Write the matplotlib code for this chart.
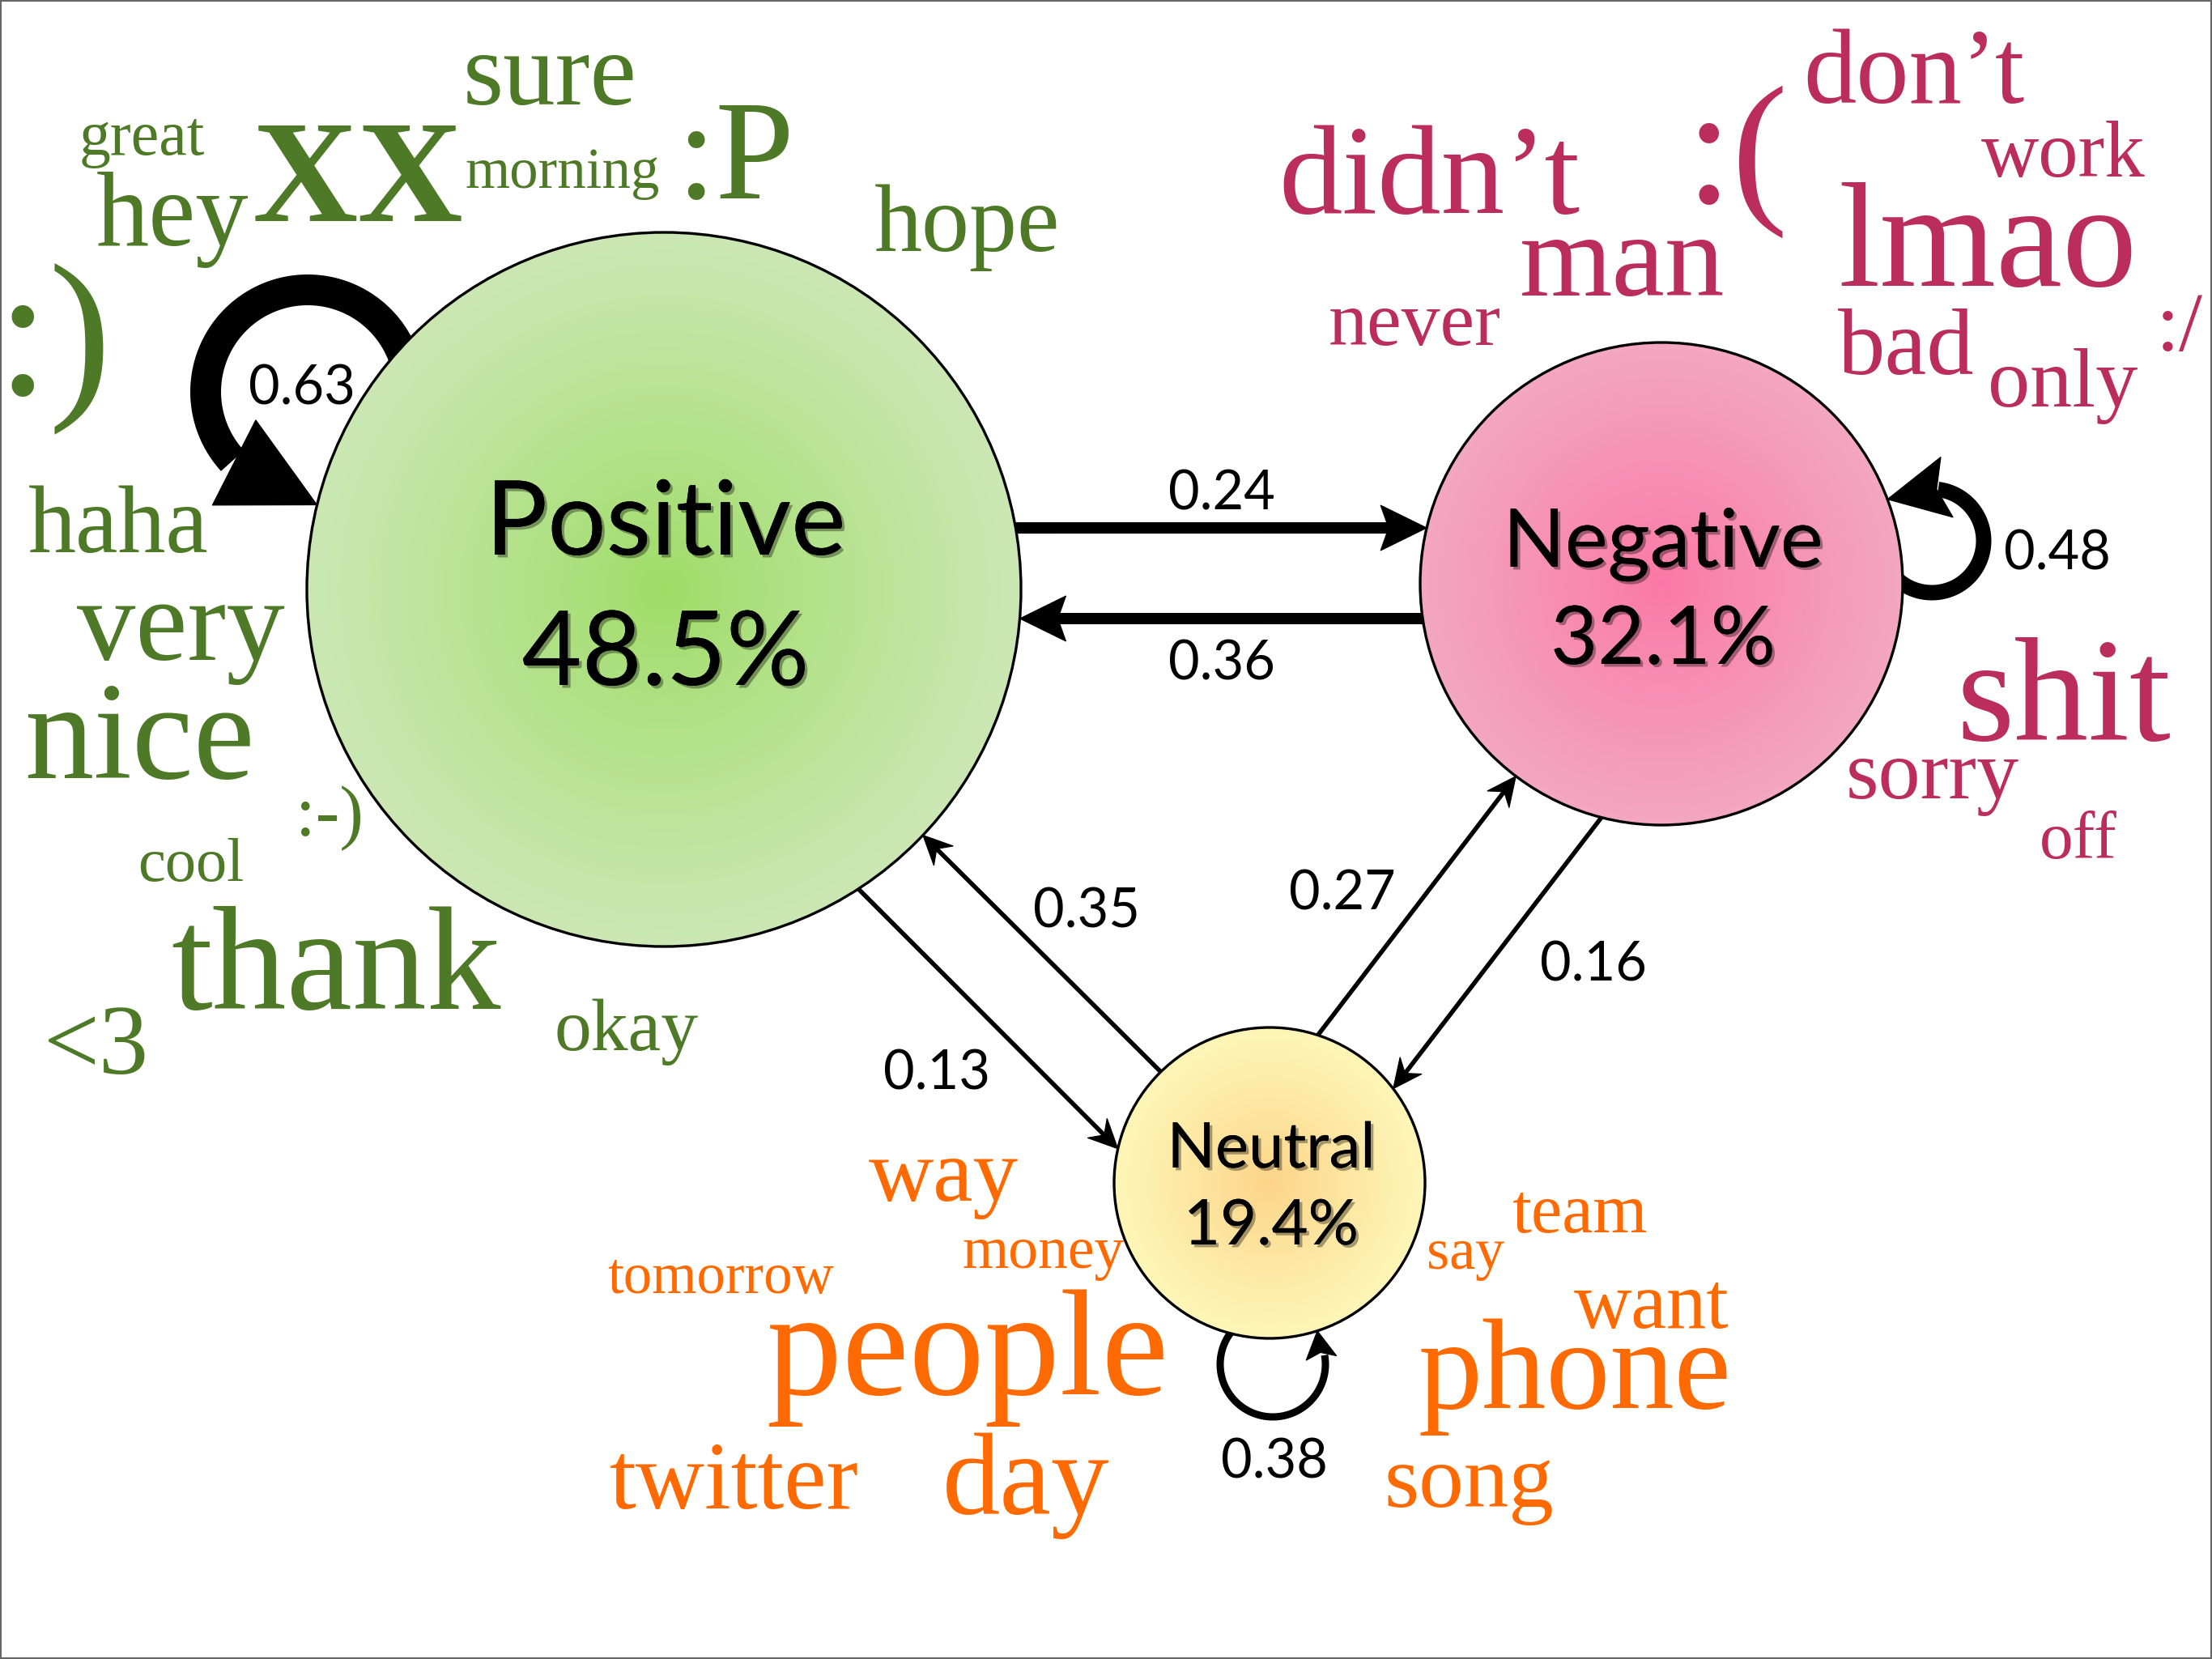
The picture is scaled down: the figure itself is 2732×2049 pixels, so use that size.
import numpy as np
import matplotlib
matplotlib.use("Agg")
import matplotlib.pyplot as plt
from matplotlib.patches import Circle, Polygon, Rectangle
from matplotlib.colors import to_rgb
import matplotlib.patheffects as pe

# ------------------------------------------------------------------ data
states = ["Positive", "Negative", "Neutral"]
shares = [48.5, 32.1, 19.4]
# transition[i][j] : probability of moving from states[i] to states[j]
transition = [[0.63, 0.24, 0.13],
              [0.36, 0.48, 0.16],
              [0.35, 0.27, 0.38]]

pos_words = ["great", "hey", "XX", "sure", "morning", ":P", "hope", ":)",
             "haha", "very", "nice", ":-)", "cool", "thank", "<3", "okay"]
pos_weights = [56, 94, 130, 93, 51, 126, 85, 168, 85, 104, 123, 64, 55, 132, 88, 66]

neg_words = ["didn\u2019t", ":(", "don\u2019t", "work", "lmao", "man", "never",
             "bad", "only", ":/", "shit", "sorry", "off"]
neg_weights = [113, 150, 94, 71, 133, 106, 69, 84, 75, 75, 132, 75, 60]

neu_words = ["way", "money", "tomorrow", "people", "twitter", "day",
             "team", "say", "want", "phone", "song"]
neu_weights = [80, 53, 51, 134, 85, 103, 62, 52, 71, 114, 80]

# ---------------------------------------------------------------- layout
W_PX, H_PX = 2732, 2049
PT = 0.72  # points per pixel at dpi 100

node_xy = [(820, 728), (2052, 721), (1568, 1461)]
node_r = [441, 298, 192]
node_c0 = ["#9fdc66", "#fb78a5", "#fcd487"]
node_c1 = ["#cbe8b4", "#f3a7c1", "#fef6b8"]
title_size = [92, 72, 56]
title_base = [685, 700, 1442]
share_base = [846, 820, 1537]

word_colors = ["#4e7a28", "#bb2d5c", "#ff6a00"]
pos_xy = [(98, 191), (119, 303), (312, 273), (572, 129), (574, 232), (835, 245),
          (1080, 310), (-4, 487), (35, 682), (95, 815), (30, 961), (365, 1032),
          (170, 1088), (211, 1246), (54, 1326), (684, 1297)]
neg_xy = [(1579, 263), (2081, 250), (2227, 127), (2447, 218), (2270, 353),
          (1877, 365), (1641, 426), (2270, 462), (2455, 502), (2663, 433),
          (2416, 914), (2280, 986), (2519, 1060)]
neu_xy = [(1073, 1483), (1188, 1566), (750, 1597), (947, 1722), (753, 1863),
          (1164, 1870), (1867, 1522), (1762, 1567), (1944, 1640), (1752, 1739),
          (1709, 1861)]

# straight edges: (from, to, angle on source, angle on target, lw px, head L, head W, notch, label xy)
straight = [
    (0, 1, -9.92, 193.39, 14, 57, 28, 10, (1509, 630)),
    (1, 0, 171.70, 4.68, 14, 57, 28, 10, (1509, 840)),
    (0, 2, 57.0, 192.7, 5.5, 36, 17, 12, (1157, 1345)),
    (2, 0, 225.6, 43.5, 5.5, 36, 17, 12, (1342, 1146)),
    (2, 1, -71.9, 127.1, 5.5, 36, 17, 12, (1658, 1123)),
    (1, 2, 104.4, -37.3, 5.5, 36, 17, 12, (1968, 1211)),
]
# self loops: (node, loop centre, loop radius, start angle, end angle, lw px,
#              tip angle on node, head direction, head L, head W, notch, label xy)
loops = [
    (0, (380, 484), 126, -20, -222.5, 38, 193.7, 27.0, 115, 59, 0, (373, 500)),
    (1, (2386, 668), 64, 135, -83, 19, -20.5, 168.5, 75, 38, 13, (2541, 703)),
    (2, (1572, 1685), 65, 240, -10, 9, 72.1, -98.4, 34, 19, 7, (1574, 1825)),
]

# ----------------------------------------------------------------- figure
fig = plt.figure(figsize=(W_PX / 100, H_PX / 100), dpi=100)
ax = fig.add_axes([0, 0, 1, 1])
ax.axis("off")

SERIF = ["Liberation Serif", "DejaVu Serif"]
SANS = ["Lato", "DejaVu Sans"]


def on_circle(i, ang):
    cx, cy = node_xy[i]
    a = np.deg2rad(ang)
    return np.array([cx + node_r[i] * np.cos(a), cy + node_r[i] * np.sin(a)])


def head(tip, d, L, W, notch):
    d = np.asarray(d, float)
    d = d / np.hypot(*d)
    n = np.array([-d[1], d[0]])
    tip = np.asarray(tip, float)
    pts = [tip, tip - L * d + W * n, tip - (L - notch) * d, tip - L * d - W * n]
    ax.add_patch(Polygon(pts, closed=True, fc="black", ec="black", lw=0.8, zorder=1.5))
    return tip - (L - notch - 1) * d


# straight arrows
for (s, t, a_s, a_t, lw, L, Wd, notch, lab) in straight:
    p0 = on_circle(s, a_s)
    p1 = on_circle(t, a_t)
    joint = head(p1, p1 - p0, L, Wd, notch)
    ax.plot([p0[0], joint[0]], [p0[1], joint[1]], color="black", lw=lw * PT,
            solid_capstyle="butt", zorder=1.4)
    ax.text(lab[0], lab[1], f"{transition[s][t]:.2f}", fontsize=48, family=SANS,
            ha="center", va="baseline", color="black", zorder=6)

# self loops
for (i, c, r, a0, a1, lw, tip_ang, hdir, L, Wd, notch, lab) in loops:
    th = np.deg2rad(np.linspace(a0, a1, 200))
    ax.plot(c[0] + r * np.cos(th), c[1] + r * np.sin(th), color="black",
            lw=lw * PT, solid_capstyle="butt", zorder=1.4)
    tip = on_circle(i, tip_ang)
    hd = np.deg2rad(hdir)
    head(tip, (np.cos(hd), np.sin(hd)), L, Wd, notch)
    ax.text(lab[0], lab[1], f"{transition[i][i]:.2f}", fontsize=48, family=SANS,
            ha="center", va="baseline", color="black", zorder=6)

# nodes with radial shading
g = np.linspace(-1, 1, 501)
X, Y = np.meshgrid(g, g)
T = np.clip(np.hypot(X, Y), 0, 1)[..., None]
shadow = [pe.withSimplePatchShadow(offset=(2.5, -2.5), shadow_rgbFace="black", alpha=0.35),
          pe.Normal()]
for i, name in enumerate(states):
    cx, cy = node_xy[i]
    r = node_r[i]
    c0 = np.array(to_rgb(node_c0[i]))
    c1 = np.array(to_rgb(node_c1[i]))
    img = c0 + (c1 - c0) * T ** 0.9
    im = ax.imshow(img, extent=(cx - r, cx + r, cy + r, cy - r), zorder=2,
                   interpolation="bilinear")
    im.set_clip_path(Circle((cx, cy), r, transform=ax.transData))
    ax.add_patch(Circle((cx, cy), r, fill=False, ec="black", lw=2.4, zorder=3))
    ax.text(cx + 2, title_base[i], name, fontsize=title_size[i], family=SANS,
            ha="center", va="baseline", color="black", zorder=4, path_effects=shadow)
    ax.text(cx + 2, share_base[i], f"{shares[i]}%", fontsize=title_size[i], family=SANS,
            ha="center", va="baseline", color="black", zorder=4, path_effects=shadow)

# word clouds
for words, weights, xy, col in [(pos_words, pos_weights, pos_xy, word_colors[0]),
                                 (neg_words, neg_weights, neg_xy, word_colors[1]),
                                 (neu_words, neu_weights, neu_xy, word_colors[2])]:
    for w, fs, (x, y) in zip(words, weights, xy):
        ax.text(x, y, w, fontsize=fs, family=SERIF, color=col, ha="left",
                va="baseline", zorder=5,
                fontweight="bold" if w == "XX" else "normal")

ax.set_xlim(0, W_PX)
ax.set_ylim(H_PX, 0)
ax.set_aspect("auto")

fig.patches.append(Rectangle((0, 0), 1, 1, transform=fig.transFigure, fill=False,
                             ec="#666666", lw=3))

fig.savefig("out.png", dpi=100, facecolor="white")
